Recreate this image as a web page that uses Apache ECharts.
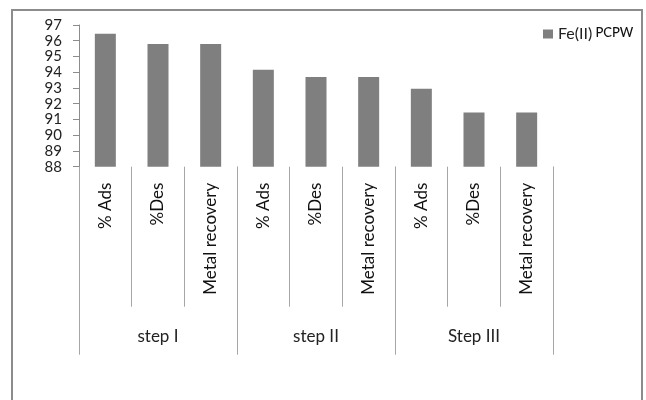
<!DOCTYPE html>
<html>
<head>
<meta charset="utf-8">
<script src="https://cdn.jsdelivr.net/npm/echarts@6/dist/echarts.min.js"></script>
<style>
  html, body { margin: 0; padding: 0; background: #ffffff; }
  #chart { width: 646px; height: 400px; }
</style>
</head>
<body>
<div id="chart"></div>
<script>
// Fe(II) recovery on PCPW over three adsorption/desorption steps
const categories = ['% Ads', '%Des', 'Metal recovery',
                    '% Ads', '%Des', 'Metal recovery',
                    '% Ads', '%Des', 'Metal recovery'];
const steps = ['step I', 'step II', 'Step III'];
const feValues = [96.45, 95.8, 95.8, 94.15, 93.7, 93.7, 92.95, 91.45, 91.45];
const seriesName = 'Fe(II) PCPW';

const chart = echarts.init(document.getElementById('chart'));
const font = 'Lato, "Open Sans", sans-serif';

chart.setOption({
  backgroundColor: '#ffffff',
  animation: false,
  grid: { left: 79, right: 93, top: 25, bottom: 233.3, containLabel: false },
  legend: {
    left: 543, top: 26, padding: 0,
    itemWidth: 10, itemHeight: 9, itemGap: 4,
    icon: 'rect',
    data: [seriesName],
    formatter: function () { return '{a|Fe(II)} {b|PCPW}'; },
    textStyle: {
      fontFamily: font,
      rich: {
        a: { fontSize: 16, color: '#222', fontFamily: font },
        b: { fontSize: 13, color: '#111', fontFamily: font, fontWeight: 500, padding: [0, 0, 3, 0] }
      }
    }
  },
  xAxis: [
    {
      type: 'category',
      position: 'bottom',
      data: categories,
      axisLine: { show: false },
      axisTick: { show: true, length: 140, lineStyle: { color: '#a6a6a6', width: 1 } },
      axisLabel: {
        rotate: 90, margin: 16, interval: 0,
        fontFamily: font, fontSize: 17, color: '#111'
      }
    },
    {
      type: 'category',
      position: 'bottom',
      data: steps,
      axisLine: { show: false },
      axisTick: { show: true, length: 188, lineStyle: { color: '#a6a6a6', width: 1 } },
      axisLabel: {
        margin: 161, interval: 0,
        fontFamily: font, fontSize: 17, color: '#222'
      }
    }
  ],
  yAxis: {
    type: 'value',
    min: 88, max: 97, interval: 1,
    splitLine: { show: false },
    axisLine: { show: true, lineStyle: { color: '#8c8c8c', width: 1 } },
    axisTick: { show: true, length: 6, lineStyle: { color: '#8c8c8c' } },
    axisLabel: {
      margin: 17, fontFamily: font, fontSize: 15, color: '#222'
    }
  },
  series: [
    {
      name: seriesName,
      type: 'bar',
      xAxisIndex: 0,
      data: feValues,
      barWidth: 21,
      itemStyle: { color: '#7f7f7f' }
    }
  ],
  graphic: [
    {
      type: 'rect',
      silent: true,
      shape: { x: 12, y: 10, width: 630, height: 400 },
      style: { fill: 'none', stroke: '#8c8c8c', lineWidth: 2 },
      z: 100
    }
  ]
});
</script>
</body>
</html>
